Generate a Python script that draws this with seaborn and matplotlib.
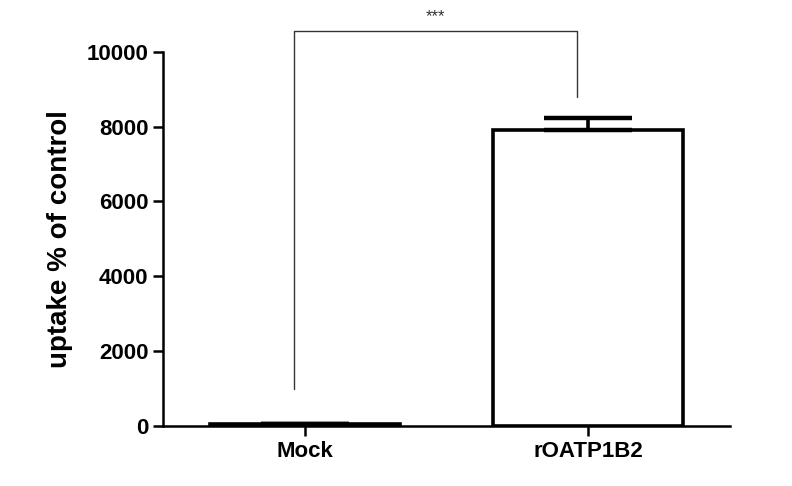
import pandas as pd
import seaborn as sns
import matplotlib.pyplot as plt

# values
groups = ["Mock", "rOATP1B2"]
uptake = [60, 7900]
sem = [0, 320]
signif = "***"

df = pd.DataFrame({"group": groups, "uptake": uptake})

sns.set_style("ticks")
plt.rcParams["font.family"] = ["Liberation Sans", "DejaVu Sans"]

fig = plt.figure(figsize=(7.92, 4.86), dpi=100)
ax = fig.add_axes([0.206, 0.1235, 0.716, 0.77])

sns.barplot(data=df, x="group", y="uptake", color="white", edgecolor="black",
            linewidth=2.6, width=0.67, errorbar=None, ax=ax)

# upper error bars only
ax.errorbar(range(len(groups)), uptake, yerr=[[0] * len(sem), sem], fmt="none",
            ecolor="black", elinewidth=2.6, capsize=32, capthick=3.2, zorder=1)

ax.set_xlim(-0.5, 1.5)
ax.set_ylim(0, 10000)
ax.set_yticks([0, 2000, 4000, 6000, 8000, 10000])
ax.set_xlabel("")
ax.set_ylabel("uptake % of control", fontsize=20, fontweight="bold",
              labelpad=10, color="black")

for lbl in ax.get_xticklabels() + ax.get_yticklabels():
    lbl.set_fontweight("bold")
    lbl.set_fontsize(16)
    lbl.set_color("black")

sns.despine(ax=ax)
for side in ["left", "bottom"]:
    ax.spines[side].set_linewidth(1.8)
    ax.spines[side].set_color("black")
ax.tick_params(axis="both", width=1.8, length=7, color="black")

# significance bracket
x1, x2 = -0.04, 0.96
y_top = 10550
ax.plot([x1, x1, x2, x2], [1000, y_top, y_top, 8800], color="#333333",
        linewidth=1.0, clip_on=False)
ax.text((x1 + x2) / 2, y_top + 180, signif, ha="center", va="bottom",
        fontsize=12, color="#333333")

fig.savefig("out.png", dpi=100, facecolor="white")
